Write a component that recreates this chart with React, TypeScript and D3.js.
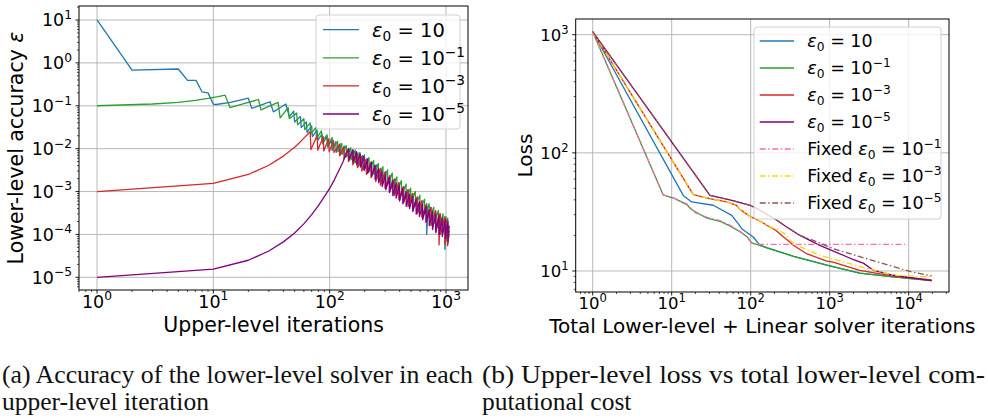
import React, { useEffect, useRef } from "react";
import * as d3 from "d3";

type Pt = [number, number];

// (a) lower-level accuracy per upper-level iteration
const accEps10: Pt[] = [
  [1, 10], [2, 0.68], [5, 0.72], [6, 0.39], [7.1, 0.39], [8, 0.21], [9, 0.2], [10, 0.108], [10.6, 0.107],
  [14, 0.12], [17, 0.135], [20, 0.15], [21.4, 0.087], [26, 0.105], [30.7, 0.124], [32.8, 0.072], [38, 0.092],
  [42, 0.11], [45, 0.055], [49, 0.075], [50, 0.042], [56, 0.056], [57, 0.031], [63, 0.042], [64, 0.024],
  [70, 0.034], [71, 0.019], [78, 0.027], [79, 0.0155], [86, 0.022], [87, 0.013], [95, 0.019], [96, 0.0108],
  [104, 0.016], [105, 0.009], [113, 0.0145], [114, 0.0082], [123, 0.013], [124, 0.0072], [134, 0.0115],
  [135, 0.0062], [146, 0.0102], [147, 0.0053], [160, 0.009], [161, 0.0045], [175, 0.008], [176, 0.0038],
  [192, 0.0069], [193, 0.0032], [210, 0.0059], [211, 0.0027], [230, 0.005], [231, 0.0023], [252, 0.0042],
  [253, 0.0019], [276, 0.0035], [277, 0.0016], [302, 0.0029], [303, 0.0013], [331, 0.0024], [332, 0.0011],
  [362, 0.002], [363, 0.0009], [396, 0.0016], [397, 0.00072], [434, 0.0013], [435, 0.0006], [475, 0.0011],
  [476, 0.0005], [520, 0.0009], [521, 0.0004], [569, 0.00075], [570, 0.00033], [623, 0.00062], [624, 0.00027],
  [682, 0.00052], [683, 0.0001], [700, 0.00045], [746, 0.00042], [747, 0.00017], [817, 0.00035], [818, 0.00012],
  [894, 0.0003], [895, 0.0001], [978, 0.00026], [979, 0.000045], [1020, 0.00022], [1021, 0.00008], [1060, 0.00013],
];

const accEps1: Pt[] = [
  [1, 0.1], [3, 0.11], [5, 0.12], [7, 0.134], [9, 0.148], [11, 0.163], [12.6, 0.177], [13.9, 0.091],
  [18, 0.11], [24.4, 0.14], [25.7, 0.08], [30, 0.097], [36, 0.12], [37.5, 0.052], [44, 0.09], [45, 0.05],
  [52, 0.068], [53, 0.036], [60, 0.05], [61, 0.028], [68, 0.04], [69, 0.022], [76, 0.031], [77, 0.017],
  [85, 0.026], [86, 0.0145], [95, 0.021], [96, 0.012], [105, 0.018], [106, 0.0098],
  [117, 0.0148], [118, 0.0085], [127, 0.0132], [128, 0.0074], [139, 0.0118], [140, 0.0064], [152, 0.0105],
  [153, 0.0055], [166, 0.0093], [167, 0.0047], [182, 0.0082], [183, 0.004], [199, 0.0072], [200, 0.0034],
  [218, 0.0062], [219, 0.0029], [239, 0.0053], [240, 0.0025], [262, 0.0045], [263, 0.0021], [287, 0.0038],
  [288, 0.0018], [315, 0.0032], [316, 0.0015], [345, 0.0027], [346, 0.0012], [378, 0.0022], [379, 0.001],
  [414, 0.0018], [415, 0.00082], [454, 0.0015], [455, 0.00068], [497, 0.0012], [498, 0.00056], [545, 0.001],
  [546, 0.00046], [597, 0.00082], [598, 0.00037], [654, 0.00066], [655, 0.0003], [717, 0.00052], [718, 0.00024],
  [786, 0.00043], [787, 0.00018], [861, 0.00036], [862, 0.00014], [943, 0.0003], [944, 0.00011], [1000, 0.00026],
  [1001, 0.00007], [1035, 0.00024], [1036, 0.00006], [1065, 0.00012],
];

const accEps3: Pt[] = [
  [1, 0.001], [10, 0.00155], [20, 0.0025], [30, 0.0041], [40, 0.0067], [50, 0.0108], [55, 0.0138],
  [60, 0.0176], [65, 0.022], [68, 0.025], [69, 0.0095], [78, 0.02], [79, 0.0092], [88, 0.019], [89, 0.0088],
  [98, 0.017], [99, 0.0085], [108, 0.0155], [109, 0.0082], [121, 0.0125], [122, 0.0068], [132, 0.011],
  [133, 0.0058], [144, 0.0097], [145, 0.005], [157, 0.0086], [158, 0.0042], [172, 0.0076], [173, 0.0036],
  [188, 0.0066], [189, 0.003], [206, 0.0057], [207, 0.0025], [226, 0.0048], [227, 0.0021], [248, 0.004],
  [249, 0.0017], [272, 0.0034], [273, 0.0014], [298, 0.0028], [299, 0.0012], [327, 0.0023], [328, 0.00098],
  [358, 0.0019], [359, 0.0008], [392, 0.0016], [393, 0.00066], [430, 0.0013], [431, 0.00054], [471, 0.0011],
  [472, 0.00045], [516, 0.0009], [517, 0.00037], [565, 0.00074], [566, 0.0003], [619, 0.0006], [620, 0.00025],
  [678, 0.0005], [679, 0.0002], [743, 0.00042], [744, 0.00016], [814, 0.00036], [815, 0.00012], [870, 0.0003],
  [871, 0.000057], [892, 0.0003], [893, 0.0001], [977, 0.00025], [978, 0.00006], [1030, 0.00022],
  [1031, 0.000055], [1062, 0.0001],
];

const accEps5: Pt[] = [
  [1, 0.00001], [10, 0.0000155], [20, 0.000025], [30, 0.000041], [40, 0.000067], [50, 0.000108],
  [60, 0.000176], [70, 0.00029], [80, 0.00047], [90, 0.00076], [100, 0.00118], [110, 0.0019], [120, 0.0031],
  [130, 0.0049], [140, 0.0082], [146, 0.0098], [147, 0.0055], [158, 0.0095], [159, 0.005], [170, 0.0085],
  [171, 0.0042], [183, 0.0075], [184, 0.0037], [197, 0.0066], [198, 0.0031], [212, 0.0056], [213, 0.0027],
  [228, 0.0048], [229, 0.0023], [245, 0.0041], [246, 0.0019], [263, 0.0035], [264, 0.0016], [282, 0.003],
  [283, 0.0013], [303, 0.0025], [304, 0.0011], [325, 0.0021], [326, 0.00095], [348, 0.0018], [349, 0.0008],
  [372, 0.0016], [373, 0.0007], [398, 0.0014], [399, 0.0006], [425, 0.0012], [426, 0.00052], [454, 0.001],
  [455, 0.00045], [485, 0.00088], [486, 0.0004], [518, 0.00076], [519, 0.00034], [553, 0.00066], [554, 0.0003],
  [590, 0.00058], [591, 0.00026], [630, 0.0005], [631, 0.00022], [672, 0.00044], [673, 0.00019], [717, 0.00038],
  [718, 0.00016], [765, 0.00034], [766, 0.00013], [816, 0.0003], [817, 0.00011], [870, 0.00027], [871, 0.0001],
  [928, 0.00024], [929, 0.00009], [990, 0.00022], [991, 0.00008], [1040, 0.0002], [1041, 0.00007], [1065, 0.00016],
];

// (b) upper-level loss vs total lower-level + linear solver iterations
const lossEps10: Pt[] = [
  [1, 1060], [14, 43.6], [17.9, 38.4], [33.6, 36], [57.5, 29.6], [69.8, 25], [77, 22.8], [93, 20.8],
  [108, 19.4], [131, 16.5], [160, 15.7], [350, 13.3], [920, 11.2], [2400, 9.6], [6400, 8.9], [19500, 8.3],
];
const lossEps1: Pt[] = [
  [1, 1060], [7.8, 44], [11, 41], [15.5, 36.5], [17.5, 33.5], [22, 30.5], [28, 28], [42, 26.2], [55, 24],
  [74, 21.4], [90, 19.5], [103, 17.3], [160, 15.8], [350, 13.3], [920, 11.2], [2400, 9.6], [6400, 8.9], [19500, 8.3],
];
const lossEps3: Pt[] = [
  [1, 1060], [18.8, 44.3], [30, 41], [50, 38.5], [66, 36], [72, 33.5], [98, 29], [130, 26.5], [160, 24.4],
  [210, 22], [260, 19.4], [300, 18], [347, 16.5], [510, 14], [900, 12.2], [1100, 11.9], [2400, 10.1],
  [6400, 9.05], [19500, 8.4],
];
const lossEps5: Pt[] = [
  [1, 1060], [30.5, 43.6], [54.6, 40], [98, 36], [119, 33.9], [214, 26.9], [285, 23.6], [420, 20],
  [750, 16.5], [1640, 13.2], [2000, 12.5], [2700, 11.6], [3600, 10.1], [6400, 9.2], [19500, 8.3],
];
const lossFixed1: Pt[] = [
  [1, 1060], [7.8, 44], [11, 41], [15.5, 37], [20, 31], [28, 28.5], [42, 26.5], [55, 24.3], [74, 21.6],
  [90, 19.3], [103, 17.1], [130, 16.8], [9000, 16.8],
];
const lossFixed3: Pt[] = [
  [1, 1060], [18.8, 44.3], [30, 41], [50, 38.5], [66, 36], [72, 33.5], [98, 29], [130, 26.5], [160, 24.4],
  [210, 22.5], [271, 20.7], [330, 17.7], [420, 16.1], [750, 13.6], [2420, 10.9], [6400, 9.2], [19500, 8.9],
];
const lossFixed5: Pt[] = [
  [1, 1060], [30.5, 43.6], [54.6, 40], [98, 36], [119, 33.9], [214, 26.9], [285, 23.6], [420, 20],
  [685, 17.7], [1100, 15.5], [2420, 13.2], [6400, 10.9], [11000, 9.8], [19500, 9.1],
];

const accLabels = ["", "−1", "−3", "−5"];
const lossLabels = ["", "−1", "−3", "−5", "−1", "−3", "−5"];
const lossPrefixes = ["", "", "", "", "Fixed ", "Fixed ", "Fixed "];

const SANS = "DejaVu Sans, sans-serif";

interface Series {
  data: Pt[];
  color: string;
  dash?: string;
  prefix: string;
  exp: string;
}

interface PanelOpts {
  xDomain: [number, number];
  yDomain: [number, number];
  box: { l: number; r: number; t: number; b: number };
  tickFont: number;
  labelFont: number;
  legendFont: number;
  xLabel: string;
  yLabel: string;
  yLabelEps: boolean;
  xLabelY: number;
  yLabelX: number;
  legendBox: { l: number; r: number; t: number; b: number };
  legendLine: [number, number];
  legendText: number;
  legendRow0: number;
  legendStep: number;
  series: Series[];
  clipId: string;
}

function expText(v: number) {
  const e = Math.round(Math.log10(v));
  return e < 0 ? "−" + Math.abs(e) : String(e);
}

function epsLabel(t: any, prefix: string, exp: string, fs: number) {
  if (prefix) t.append("tspan").text(prefix);
  t.append("tspan").attr("font-style", "italic").text("ε");
  t.append("tspan").attr("font-size", fs * 0.7).attr("dy", fs * 0.22).text("0");
  t.append("tspan").attr("dy", -fs * 0.22).text(" = 10");
  if (exp) t.append("tspan").attr("font-size", fs * 0.7).attr("dy", -fs * 0.42).text(exp);
}

function drawPanel(svg: any, o: PanelOpts) {
  const x = d3.scaleLog().domain(o.xDomain).range([o.box.l, o.box.r]);
  const y = d3.scaleLog().domain(o.yDomain).range([o.box.b, o.box.t]);
  const isMajor = (v: number) => Math.abs(Math.log10(v) - Math.round(Math.log10(v))) < 1e-9;
  const xAll = x.ticks().filter((v) => v >= o.xDomain[0] && v <= o.xDomain[1]);
  const yAll = y.ticks().filter((v) => v >= o.yDomain[0] && v <= o.yDomain[1]);
  const xMaj = xAll.filter(isMajor);
  const yMaj = yAll.filter(isMajor);

  const g = svg.append("g");

  // grid
  g.selectAll(".gx").data(xMaj).join("line")
    .attr("x1", (d: number) => x(d)).attr("x2", (d: number) => x(d))
    .attr("y1", o.box.t).attr("y2", o.box.b)
    .attr("stroke", "#b0b0b0").attr("stroke-width", 0.9);
  g.selectAll(".gy").data(yMaj).join("line")
    .attr("y1", (d: number) => y(d)).attr("y2", (d: number) => y(d))
    .attr("x1", o.box.l).attr("x2", o.box.r)
    .attr("stroke", "#b0b0b0").attr("stroke-width", 0.9);

  svg.append("defs").append("clipPath").attr("id", o.clipId).append("rect")
    .attr("x", o.box.l).attr("y", o.box.t)
    .attr("width", o.box.r - o.box.l).attr("height", o.box.b - o.box.t);

  const line = d3.line<Pt>().x((d) => x(d[0])).y((d) => y(d[1]));
  const lines = g.append("g").attr("clip-path", `url(#${o.clipId})`);
  o.series.forEach((s) => {
    lines.append("path").attr("d", line(s.data)).attr("fill", "none")
      .attr("stroke", s.color).attr("stroke-width", 1.3)
      .attr("stroke-dasharray", s.dash || null).attr("stroke-linejoin", "round");
  });

  // ticks
  const tk = g.append("g").attr("stroke", "#000");
  xAll.forEach((v) => {
    const L = isMajor(v) ? 3.5 : 2;
    tk.append("line").attr("x1", x(v)).attr("x2", x(v)).attr("y1", o.box.b).attr("y2", o.box.b + L)
      .attr("stroke-width", isMajor(v) ? 0.9 : 0.7);
  });
  yAll.forEach((v) => {
    const L = isMajor(v) ? 3.5 : 2;
    tk.append("line").attr("y1", y(v)).attr("y2", y(v)).attr("x1", o.box.l).attr("x2", o.box.l - L)
      .attr("stroke-width", isMajor(v) ? 0.9 : 0.7);
  });

  const fs = o.tickFont;
  xMaj.forEach((v) => {
    const t = g.append("text").attr("x", x(v)).attr("y", o.box.b + 3.5 + fs * 0.8)
      .attr("text-anchor", "middle").attr("font-family", SANS).attr("font-size", fs);
    t.append("tspan").text("10");
    t.append("tspan").attr("font-size", fs * 0.7).attr("dy", -fs * 0.42).text(expText(v));
  });
  yMaj.forEach((v) => {
    const t = g.append("text").attr("x", o.box.l - 7).attr("y", y(v) + fs * 0.36)
      .attr("text-anchor", "end").attr("font-family", SANS).attr("font-size", fs);
    t.append("tspan").text("10");
    t.append("tspan").attr("font-size", fs * 0.7).attr("dy", -fs * 0.42).text(expText(v));
  });

  // frame
  g.append("rect").attr("x", o.box.l).attr("y", o.box.t)
    .attr("width", o.box.r - o.box.l).attr("height", o.box.b - o.box.t)
    .attr("fill", "none").attr("stroke", "#000").attr("stroke-width", 1);

  // axis labels
  g.append("text").attr("x", (o.box.l + o.box.r) / 2).attr("y", o.xLabelY)
    .attr("text-anchor", "middle").attr("font-family", SANS).attr("font-size", o.labelFont)
    .text(o.xLabel);
  const yl = g.append("text")
    .attr("transform", `translate(${o.yLabelX},${(o.box.t + o.box.b) / 2}) rotate(-90)`)
    .attr("text-anchor", "middle").attr("font-family", SANS).attr("font-size", o.labelFont);
  yl.append("tspan").text(o.yLabel);
  if (o.yLabelEps) yl.append("tspan").attr("font-style", "italic").text(" ε");

  // legend
  const lb = o.legendBox;
  g.append("rect").attr("x", lb.l).attr("y", lb.t).attr("width", lb.r - lb.l).attr("height", lb.b - lb.t)
    .attr("rx", 3).attr("fill", "#fff").attr("fill-opacity", 0.8)
    .attr("stroke", "#d0d0d0").attr("stroke-width", 1);
  o.series.forEach((s, i) => {
    const cy = o.legendRow0 + i * o.legendStep;
    g.append("line").attr("x1", o.legendLine[0]).attr("x2", o.legendLine[1]).attr("y1", cy).attr("y2", cy)
      .attr("stroke", s.color).attr("stroke-width", 1.3).attr("stroke-dasharray", s.dash || null);
    const t = g.append("text").attr("x", o.legendText).attr("y", cy + o.legendFont * 0.36)
      .attr("font-family", SANS).attr("font-size", o.legendFont);
    epsLabel(t, s.prefix, s.exp, o.legendFont);
  });
}

export default function App() {
  const ref = useRef<SVGSVGElement>(null);

  useEffect(() => {
    const svg = d3.select(ref.current);
    svg.selectAll("*").remove();
    svg.append("rect").attr("width", 988).attr("height", 418).attr("fill", "#fff");

    const accColors = ["#1f77b4", "#2ca02c", "#d62728", "#800080"];
    const accData = [accEps10, accEps1, accEps3, accEps5];
    drawPanel(svg, {
      xDomain: [0.7, 1546],
      yDomain: [5.06e-6, 21.2],
      box: { l: 79, r: 468, t: 6, b: 290 },
      tickFont: 17.5,
      labelFont: 20.5,
      legendFont: 19.5,
      xLabel: "Upper-level iterations",
      yLabel: "Lower-level accuracy",
      yLabelEps: true,
      xLabelY: 331.5,
      yLabelX: 23,
      legendBox: { l: 316, r: 460, t: 15, b: 129 },
      legendLine: [323, 359],
      legendText: 372,
      legendRow0: 29.7,
      legendStep: 28.1,
      series: accData.map((d, i) => ({ data: d, color: accColors[i], prefix: "", exp: accLabels[i] })),
      clipId: "clipA",
    });

    const lossColors = ["#1f77b4", "#2ca02c", "#d62728", "#800080", "#ff69b4", "#ffd700", "#8c564b"];
    const lossData = [lossEps10, lossEps1, lossEps3, lossEps5, lossFixed1, lossFixed3, lossFixed5];
    drawPanel(svg, {
      xDomain: [0.609, 32400],
      yDomain: [6.64, 1358],
      box: { l: 575.7, r: 949, t: 19, b: 292 },
      tickFont: 16.5,
      labelFont: 20,
      legendFont: 17.5,
      xLabel: "Total Lower-level + Linear solver iterations",
      yLabel: "Loss",
      yLabelEps: false,
      xLabelY: 333,
      yLabelX: 532,
      legendBox: { l: 754, r: 941, t: 27, b: 219 },
      legendLine: [759.7, 794],
      legendText: 807.3,
      legendRow0: 41,
      legendStep: 27,
      series: lossData.map((d, i) => ({
        data: d,
        color: lossColors[i],
        dash: i >= 4 ? "6,2.5,1.5,2.5" : undefined,
        prefix: lossPrefixes[i],
        exp: lossLabels[i],
      })),
      clipId: "clipB",
    });

    // captions: first line of each fills the column width, as in the justified LaTeX text
    const cap = [
      { x: 2, width: 471, lines: ["(a) Accuracy of the lower-level solver in each", "upper-level iteration"] },
      { x: 482, width: 503, lines: ["(b) Upper-level loss vs total lower-level com-", "putational cost"] },
    ];
    cap.forEach((c) => {
      c.lines.forEach((ln, i) => {
        const t = svg.append("text").attr("x", c.x).attr("y", 383 + i * 27)
          .attr("font-family", "Liberation Serif, serif").attr("font-size", 25.5)
          .attr("fill", "#111").text(ln);
        if (i === 0) t.attr("textLength", c.width).attr("lengthAdjust", "spacingAndGlyphs");
      });
    });
  }, []);

  return (
    <svg ref={ref} width={988} height={418} style={{ position: "absolute", left: 0, top: 0 }} />
  );
}
